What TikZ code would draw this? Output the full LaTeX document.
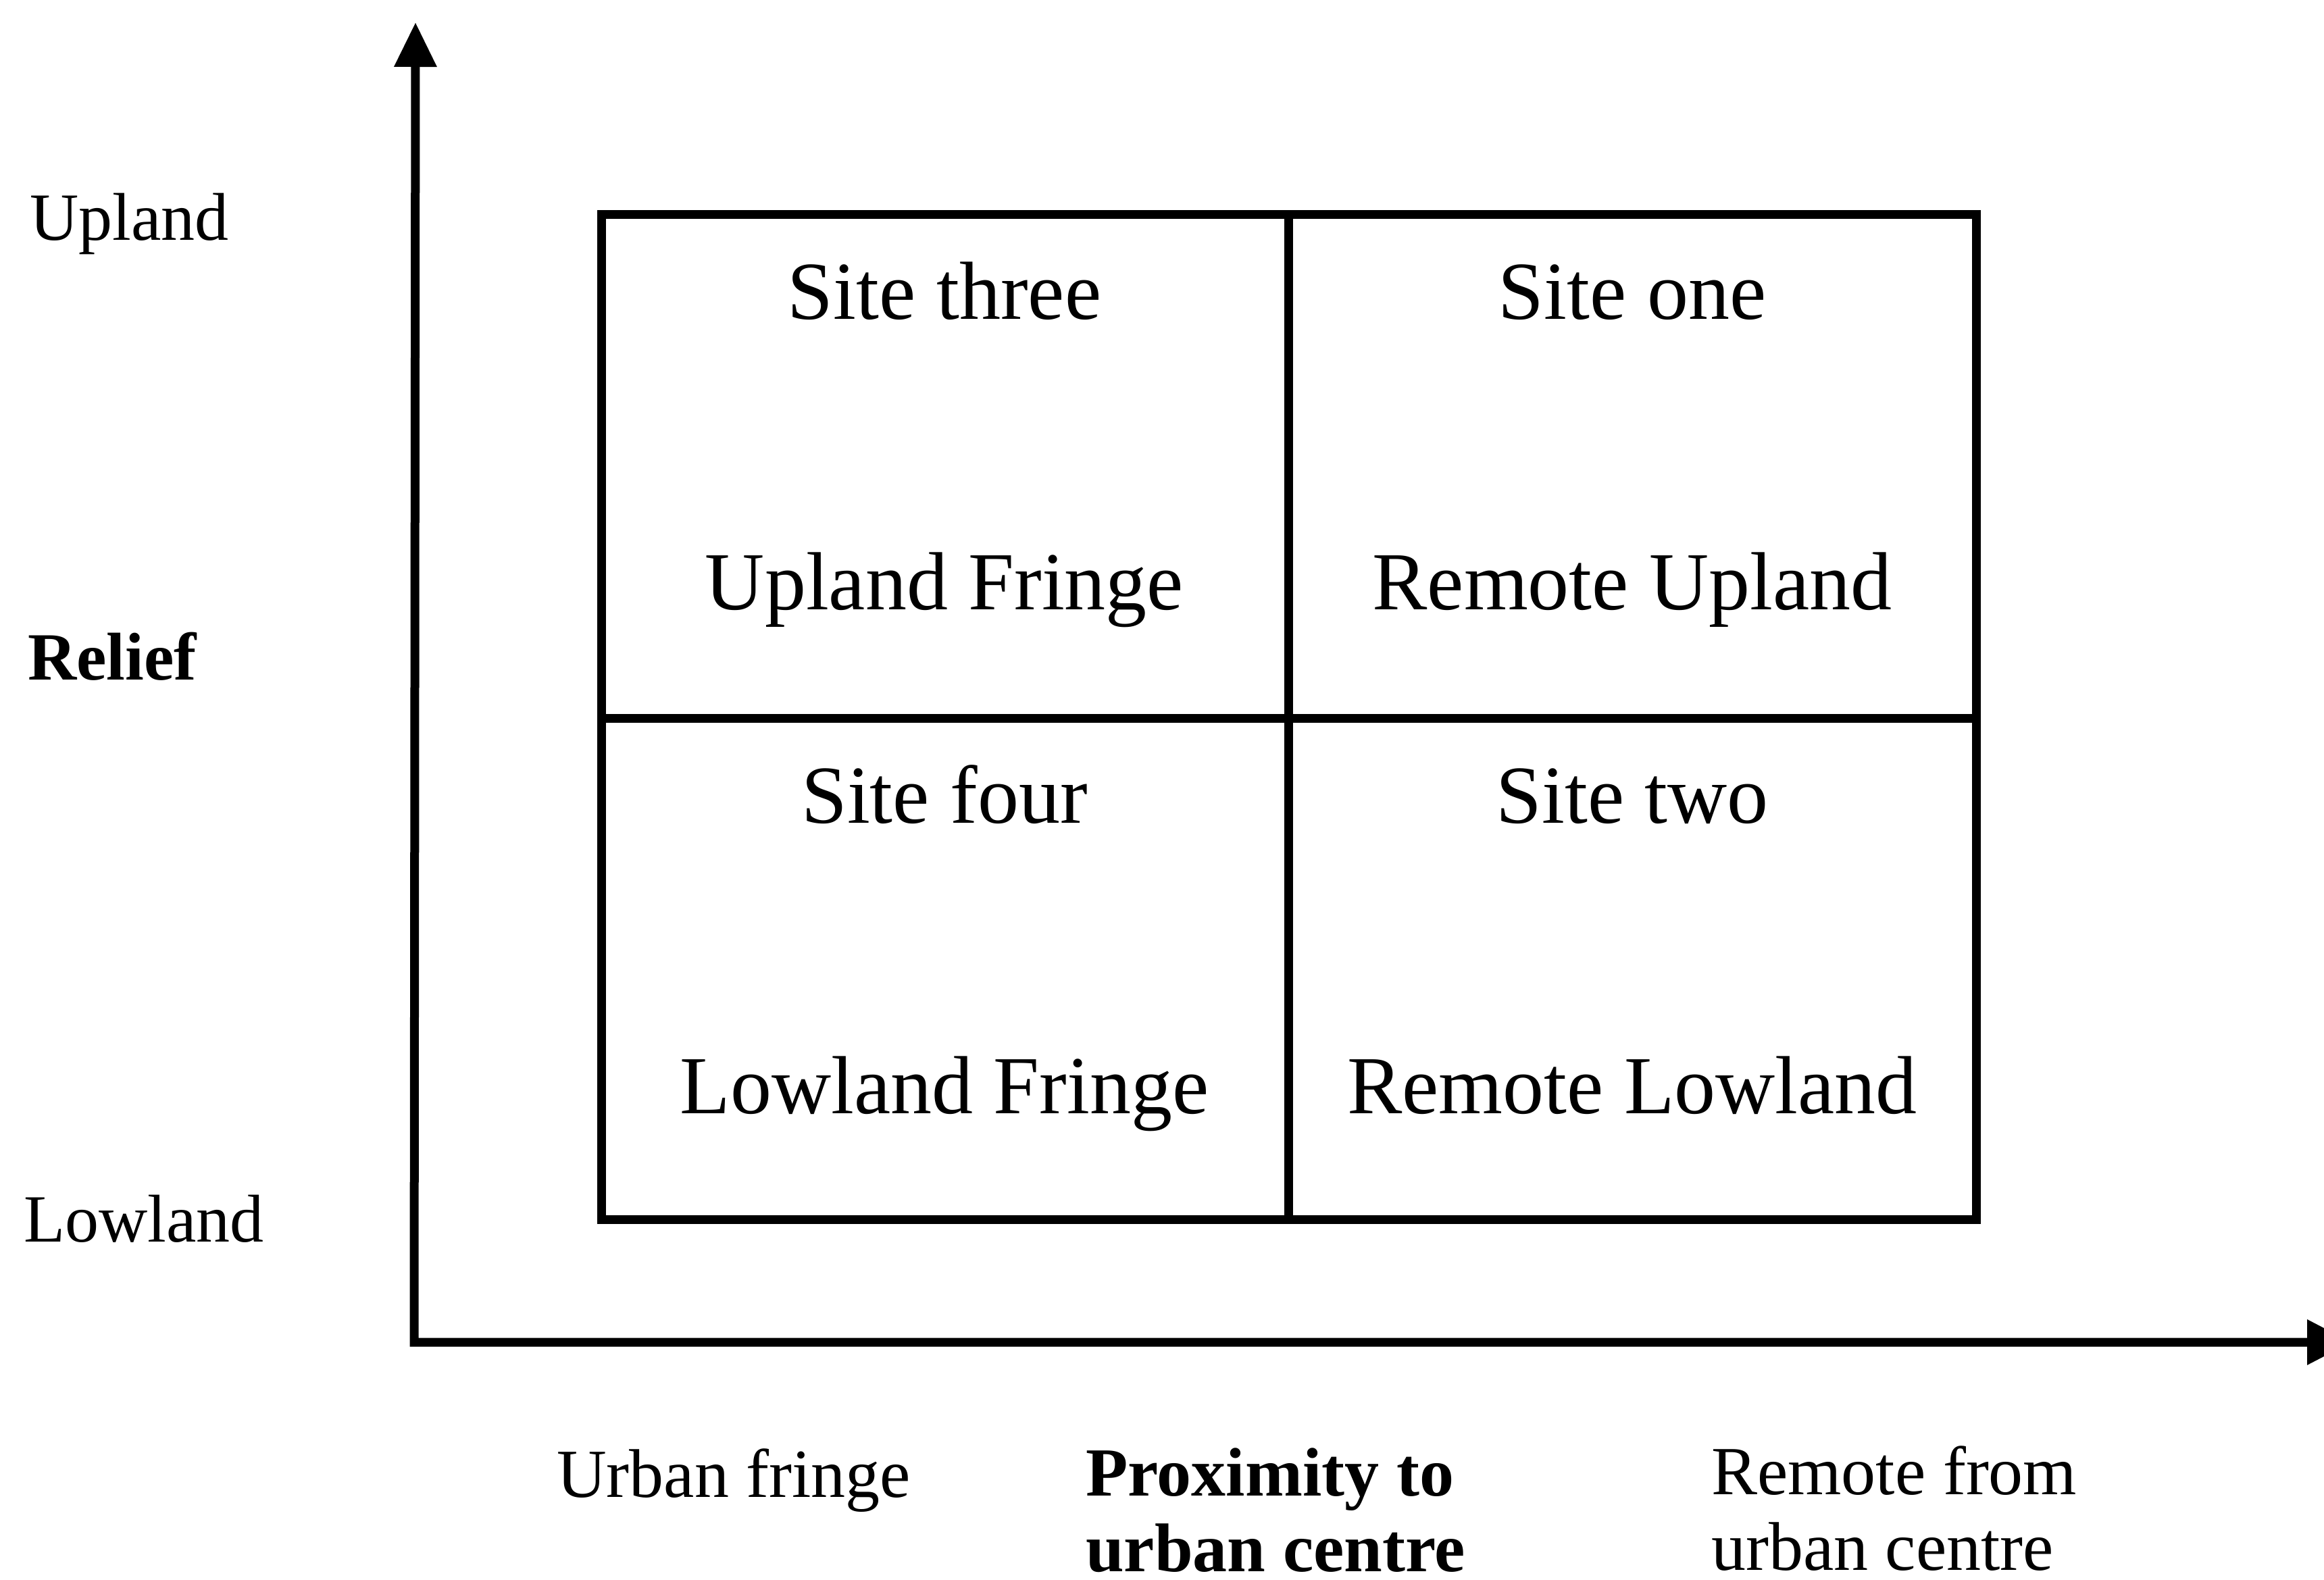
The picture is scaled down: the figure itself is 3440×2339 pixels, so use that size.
\documentclass[tikz,border=0pt]{standalone}
\usepackage{fontspec}
\setmainfont{Liberation Serif}
\usetikzlibrary{arrows.meta}

\begin{document}
\begin{tikzpicture}[x=1pt,y=-1pt,
  axis/.style={line width=13pt,line join=miter},
  grid/.style={line width=13pt,line cap=rect},
  cell/.style={inner sep=0pt,anchor=base,font=\fontsize{122}{146}\selectfont},
  side/.style={inner sep=0pt,anchor=base west,font=\fontsize{100}{120}\selectfont},
  foot/.style={inner sep=0pt,anchor=base west,align=left,
    font=\fontsize{102}{112}\selectfont}]
\useasboundingbox (0,0) rectangle (3440,2339);

% axes
\coordinate (origin) at (613,1987);
\coordinate (ytip) at (615,33);
\coordinate (xtip) at (3481,1987);
\draw[axis,{Triangle[length=66pt,width=60pt]}-{Triangle[length=66pt,width=64pt]}]
  (ytip) -- (origin) -- (xtip);

% two-by-two grid of sites
\coordinate (nw) at (890,317);
\coordinate (se) at (2925,1805);
\coordinate (n) at (1907,317);
\coordinate (s) at (1907,1805);
\coordinate (w) at (890,1063);
\coordinate (e) at (2925,1063);
\draw[grid] (nw) rectangle (se);
\draw[grid] (n) -- (s);
\draw[grid] (w) -- (e);

% cell labels
\node[cell] (s3) at (1398,472) {Site three};
\node[cell] (uf) at (1398,902) {Upland Fringe};
\node[cell] (s1) at (2416,472) {Site one};
\node[cell] (ru) at (2416,902) {Remote Upland};
\node[cell] (s4) at (1398,1218) {Site four};
\node[cell] (lf) at (1398,1648) {Lowland Fringe};
\node[cell] (s2) at (2416,1218) {Site two};
\node[cell] (rl) at (2416,1648) {Remote Lowland};

% relief axis labels
\node[side] (up) at (44,355) {Upland};
\node[side] (rel) at (41,1006) {\bfseries Relief};
\node[side] (low) at (35,1838) {Lowland};

% proximity axis labels (two-line nodes sit on their last baseline)
\node[foot] (uf2) at (824,2216) {Urban fringe};
\node[foot] (prox) at (1607,2326) {\bfseries Proximity to\\\bfseries urban centre};
\node[foot] (rem) at (2533,2324) {Remote from\\urban centre};
\end{tikzpicture}
\end{document}
